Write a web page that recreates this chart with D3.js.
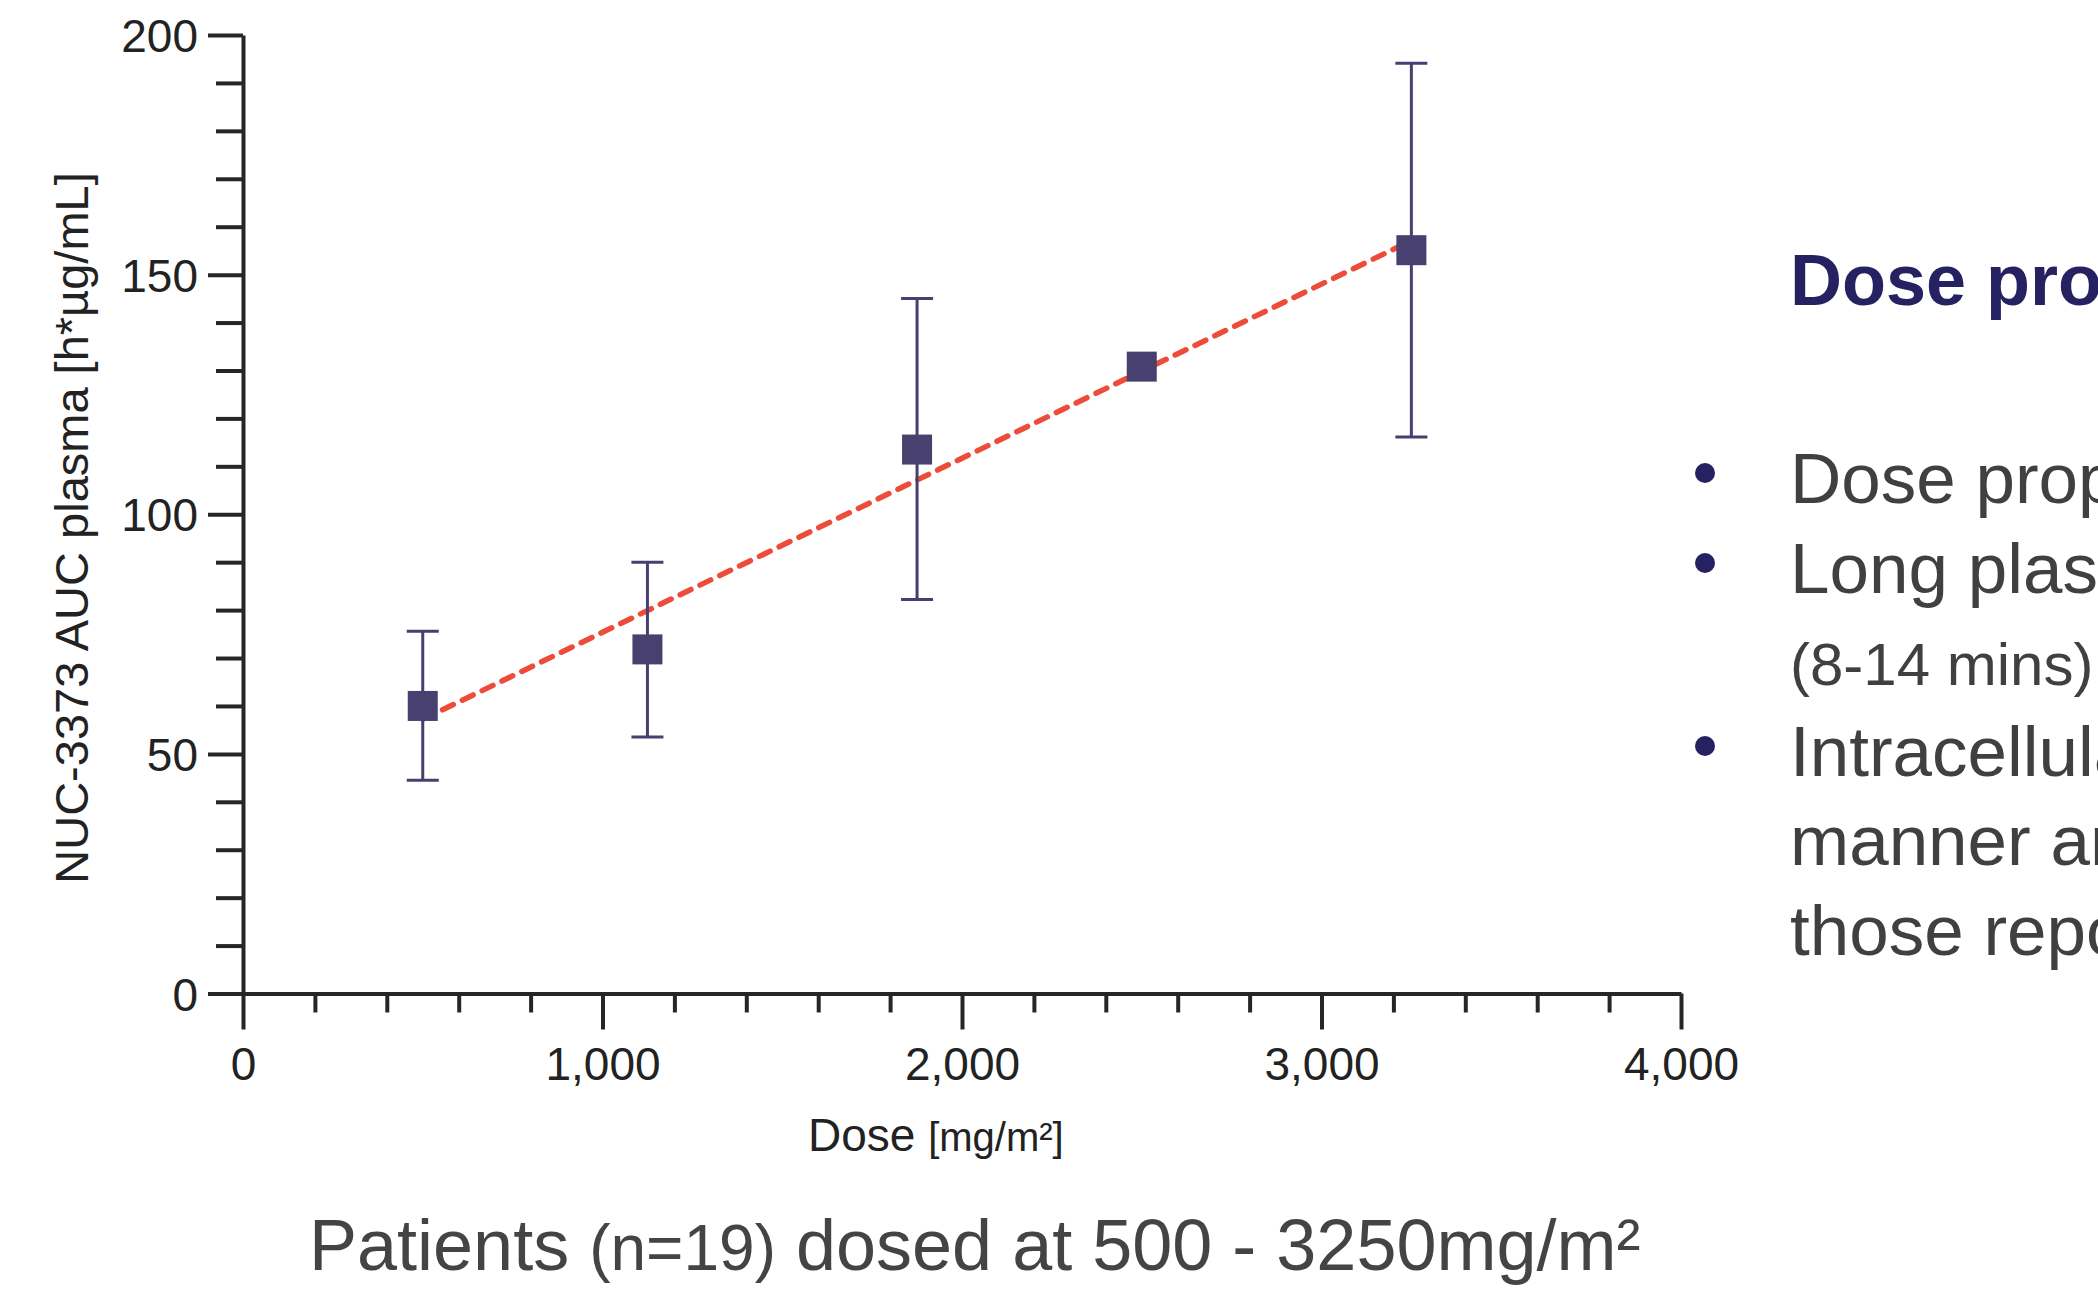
<meta charset="utf-8">
<head>
<script src="https://d3js.org/d3.v7.min.js"></script>
<style>
  body { margin: 0; background: #fff; overflow: hidden; }
  text { font-family: Arial, "Liberation Sans", Helvetica, sans-serif; }
</style>
</head>
<body>

<div id="container"></div>

<script>

// values
var doses   = [500, 1125, 1875, 2500, 3250];
var aucMean = [60.0, 71.8, 113.5, 130.8, 155.1];
var aucHigh = [75.6, 90.0, 145.0, null, 194.1];
var aucLow  = [44.5, 53.5, 82.2, null, 116.1];

// dashed trend line, end points
var fitDose = [500, 3250];
var fitAuc  = [57.2, 157.1];

var xTicks = [0, 1000, 2000, 3000, 4000];
var yTicks = [0, 50, 100, 150, 200];
var xMinor = [200, 400, 600, 800, 1200, 1400, 1600, 1800, 2200, 2400, 2600, 2800, 3200, 3400, 3600, 3800];
var yMinor = [10, 20, 30, 40, 60, 70, 80, 90, 110, 120, 130, 140, 160, 170, 180, 190];

var bulletLines = [
  {text: "Dose proportional", bullet: true,  size: 71},
  {text: "Long plasma",       bullet: true,  size: 71},
  {text: "(8-14 mins)",       bullet: false, size: 60},
  {text: "Intracellular",     bullet: true,  size: 71},
  {text: "manner and",        bullet: false, size: 71},
  {text: "those reported",    bullet: false, size: 71}
];
var lineBase = [503, 593, 685, 776, 865, 955];

var width = 2098, height = 1300;
var navy = "#48416f", axisCol = "#262626";
var fontFam = 'Arial, "Liberation Sans", Helvetica, sans-serif';

var svg = d3.select('#container')
  .append('svg')
  .attr('width', width)
  .attr('height', height);

var x = d3.scaleLinear().domain([0, 4000]).range([243, 1681]);
var y = d3.scaleLinear().domain([0, 200]).range([993.5, 35]);

// minor ticks first
svg.append('g')
  .attr('transform', 'translate(0,' + y(0) + ')')
  .call(d3.axisBottom(x).tickValues(xMinor).tickSize(19).tickFormat(''))
  .call(g => g.select('.domain').remove())
  .call(g => g.selectAll('line').attr('stroke', axisCol).attr('stroke-width', 4));

svg.append('g')
  .attr('transform', 'translate(' + x(0) + ',0)')
  .call(d3.axisLeft(y).tickValues(yMinor).tickSize(27).tickFormat(''))
  .call(g => g.select('.domain').remove())
  .call(g => g.selectAll('line').attr('stroke', axisCol).attr('stroke-width', 4));

// major axes
var xAxis = svg.append('g')
  .attr('transform', 'translate(0,' + y(0) + ')')
  .call(d3.axisBottom(x).tickValues(xTicks).tickSize(36).tickSizeOuter(0).tickFormat(d3.format(',')));

var yAxis = svg.append('g')
  .attr('transform', 'translate(' + x(0) + ',0)')
  .call(d3.axisLeft(y).tickValues(yTicks).tickSize(35).tickSizeOuter(0).tickPadding(10));

[xAxis, yAxis].forEach(function(g) {
  g.attr('font-family', fontFam);
  g.select('.domain').attr('stroke', axisCol).attr('stroke-width', 4);
  g.selectAll('.tick line').attr('stroke', axisCol).attr('stroke-width', 4);
  g.selectAll('.tick text')
    .attr('fill', '#222')
    .style('font-size', '46px');
});
xAxis.selectAll('.tick text').attr('dy', null).attr('y', 86);
yAxis.selectAll('.tick text').attr('dy', '0.36em');

// axis titles
var xt = svg.append('text')
  .attr('x', 808)
  .attr('y', 1151)
  .attr('fill', '#222');
xt.append('tspan').style('font-size', '46px').text('Dose ');
xt.append('tspan').style('font-size', '40px').text('[mg/m²]');

svg.append('text')
  .attr('transform', 'translate(88,' + 528 + ') rotate(-90)')
  .attr('text-anchor', 'middle')
  .attr('fill', '#222')
  .style('font-size', '47px')
  .text('NUC-3373 AUC plasma [h*µg/mL]');

// trend line
var fit = fitDose.map(function(d, i) { return [d, fitAuc[i]]; });
svg.append('path')
  .datum(fit)
  .attr('d', d3.line().x(d => x(d[0])).y(d => y(d[1])))
  .attr('fill', 'none')
  .attr('stroke', '#ee4c3b')
  .attr('stroke-width', 5.5)
  .attr('stroke-linecap', 'round')
  .attr('stroke-dasharray', '12,10');

// error bars
var pts = doses.map(function(d, i) {
  return {dose: d, mean: aucMean[i], hi: aucHigh[i], lo: aucLow[i]};
});
var bars = svg.append('g').selectAll('g')
  .data(pts.filter(d => d.hi != null))
  .enter().append('g')
  .attr('stroke', '#463f6f')
  .attr('stroke-width', 3);

bars.append('line')
  .attr('x1', d => x(d.dose)).attr('x2', d => x(d.dose))
  .attr('y1', d => y(d.hi)).attr('y2', d => y(d.lo));
bars.append('line')
  .attr('x1', d => x(d.dose) - 16).attr('x2', d => x(d.dose) + 16)
  .attr('y1', d => y(d.hi)).attr('y2', d => y(d.hi));
bars.append('line')
  .attr('x1', d => x(d.dose) - 16).attr('x2', d => x(d.dose) + 16)
  .attr('y1', d => y(d.lo)).attr('y2', d => y(d.lo));

// square markers
svg.append('g').selectAll('rect')
  .data(pts)
  .enter().append('rect')
  .attr('x', d => x(d.dose) - 15)
  .attr('y', d => y(d.mean) - 15)
  .attr('width', 30)
  .attr('height', 30)
  .attr('fill', navy);

// caption under the chart
var cap = svg.append('text')
  .attr('x', 309)
  .attr('y', 1270)
  .attr('fill', '#444');
cap.append('tspan').style('font-size', '72px').text('Patients ');
cap.append('tspan').style('font-size', '64px').text('(n=19)');
cap.append('tspan').style('font-size', '72px').text(' dosed at 500 - 3250mg/m²');

// right hand text panel (runs off the right edge, as in the original)
svg.append('text')
  .attr('x', 1790)
  .attr('y', 305)
  .attr('fill', '#262262')
  .style('font-size', '72px')
  .style('font-weight', 'bold')
  .text('Dose proportional');

var rows = svg.append('g').selectAll('g')
  .data(bulletLines)
  .enter().append('g');

rows.each(function(d, i) {
  var g = d3.select(this);
  if (d.bullet) {
    g.append('circle')
      .attr('cx', 1705)
      .attr('cy', lineBase[i] - 30)
      .attr('r', 10)
      .attr('fill', '#262262');
  }
  g.append('text')
    .attr('x', 1790)
    .attr('y', lineBase[i])
    .attr('fill', '#404040')
    .style('font-size', d.size + 'px')
    .text(d.text);
});

</script>

</body>
